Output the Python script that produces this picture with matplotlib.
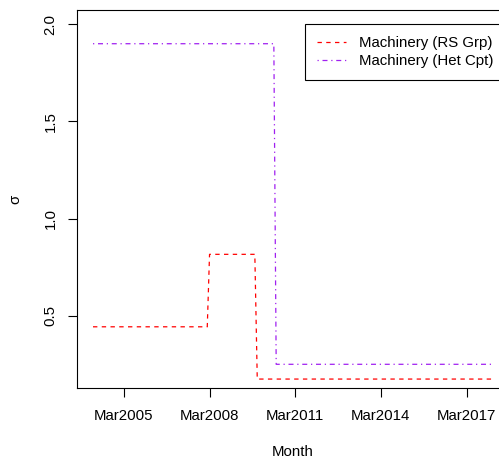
import matplotlib
matplotlib.use("Agg")
import matplotlib.pyplot as plt
import matplotlib.dates as mdates
import pandas as pd

# ---- data ----
months_rs = ["2004-02", "2008-02", "2008-03", "2009-10", "2009-11", "2018-02"]
sigma_rs = [0.443, 0.443, 0.816, 0.816, 0.174, 0.174]
months_het = ["2004-02", "2010-06", "2010-07", "2018-02"]
sigma_het = [1.90, 1.90, 0.25, 0.25]
tick_months = ["2005-03", "2008-03", "2011-03", "2014-03", "2017-03"]
tick_labels = ["Mar2005", "Mar2008", "Mar2011", "Mar2014", "Mar2017"]
y_ticks = [0.5, 1.0, 1.5, 2.0]
y_tick_labels = ["0.5", "1.0", "1.5", "2.0"]
series_labels = ["Machinery (RS Grp)", "Machinery (Het Cpt)"]

plt.rcParams['font.family'] = ['Liberation Sans', 'DejaVu Sans']
FS = 10.8

W, H = 499, 459
fig = plt.figure(figsize=(W / 100, H / 100), dpi=100)
ax = fig.add_axes([77 / W, (H - 388) / H, 432 / W, 377.7 / H])

x_rs = pd.to_datetime(months_rs)
x_het = pd.to_datetime(months_het)

ax.plot(x_rs, sigma_rs, color="#FF0000", lw=0.9, dashes=(3.5, 3.5),
        label=series_labels[0])
ax.plot(x_het, sigma_het, color="#A020F0", lw=0.9, dashes=(1, 3, 4, 3),
        label=series_labels[1])

# R-style 4% padding
xmin = mdates.date2num(min(x_rs.min(), x_het.min()))
xmax = mdates.date2num(max(x_rs.max(), x_het.max()))
pad = 0.04 * (xmax - xmin)
ax.set_xlim(xmin - pad, xmax + pad)
ylo, yhi = 0.2, 2.0
ypad = 0.04 * (yhi - ylo)
ax.set_ylim(ylo - ypad, yhi + ypad)

ax.set_xticks(mdates.date2num(pd.to_datetime(tick_months)))
ax.set_xticklabels(tick_labels, fontsize=FS)
ax.set_yticks(y_ticks)
ax.set_yticklabels(y_tick_labels, fontsize=FS, rotation=90, va='center')

ax.tick_params(axis='both', direction='out', length=6.5, width=0.8, color='black')
ax.tick_params(axis='x', pad=8.6)
ax.tick_params(axis='y', pad=7.4)
for s in ax.spines.values():
    s.set_linewidth(0.8)
    s.set_color('black')

ax.set_xlabel("Month", fontsize=FS, va='center')
ax.xaxis.set_label_coords(0.5, -(451.7 - 388) / 377.7)
ax.set_ylabel("σ", fontsize=FS, va='center')
ax.yaxis.set_label_coords((15.7 - 77) / 432, 0.5)

leg = ax.legend(loc='upper left', bbox_to_anchor=(305.3 / W, 1 - 24.3 / H),
                bbox_transform=fig.transFigure, borderaxespad=0,
                fontsize=FS, frameon=True, fancybox=False, framealpha=1,
                edgecolor='black', handlelength=1.93, handletextpad=0.87,
                borderpad=0.8, labelspacing=0.25)
leg.get_frame().set_linewidth(0.8)

fig.savefig("out.png", dpi=100)
